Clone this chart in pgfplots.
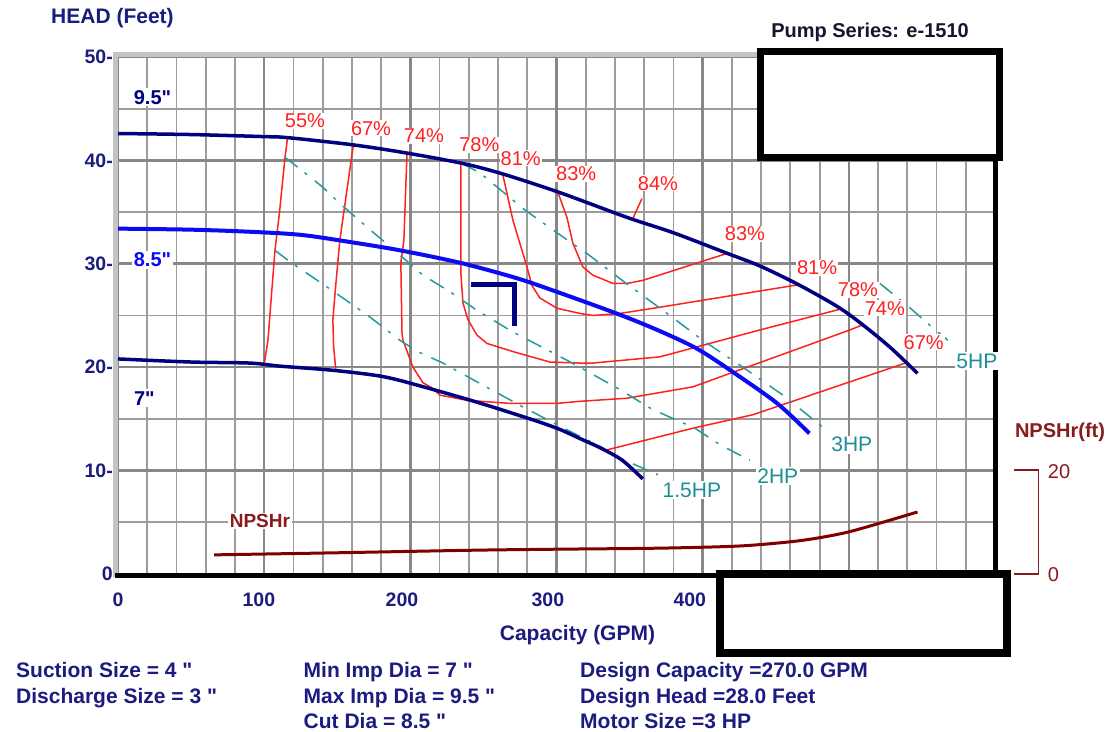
\documentclass[border=0pt]{standalone}
\usepackage{fontspec}
\setmainfont{Liberation Sans}[Ligatures=TeXOff]
\usepackage{pgfplots}
\pgfplotsset{compat=1.18}
\definecolor{navy}{HTML}{000080}
\definecolor{cblue}{HTML}{0A0AF5}
\definecolor{ered}{HTML}{FF2020}
\definecolor{hpteal}{HTML}{249A9A}
\definecolor{hptext}{HTML}{1E8E96}
\definecolor{npred}{HTML}{800000}
\definecolor{nptext}{HTML}{8B1A1A}
\definecolor{txtnavy}{HTML}{1C1C80}
\definecolor{gmaj}{HTML}{878787}
\definecolor{gmin}{HTML}{9C9C9C}
\definecolor{frameg}{HTML}{C4C4C4}
\definecolor{darktxt}{HTML}{15152E}
\newcommand{\fs}[1]{\fontsize{#1}{#1}\selectfont}

\begin{document}
\begin{tikzpicture}[x=1pt,y=1pt,
  pct/.style={fill=white, inner sep=1pt, text=ered, font=\fs{20}},
  hp/.style={fill=white, inner sep=1.5pt, text=hptext, font=\fs{21}},
  dia/.style={fill=white, inner sep=2pt, font=\fs{20}\bfseries},
  eff/.style={ered, line width=1.5pt, line join=round},
  hpl/.style={hpteal, line width=1.5pt, dash pattern=on 16pt off 9pt on 3pt off 10pt},
]
\fill[white] (0,0) rectangle (1115,731);
\useasboundingbox (0,0) rectangle (1115,731);
\begin{axis}[
  at={(118pt,157pt)}, anchor=south west,
  scale only axis, width=877pt, height=517pt,
  xmin=0, xmax=600, ymin=0, ymax=50,
  xtick={0,96.4,194.3,294.1,391.2},
  xticklabels={0,100,200,300,400},
  xmajorgrids=false,
  minor xtick={20,40,60,80,120,140,160,180,220,240,260,280,320,340,360,380,420,440,460,480,520,540,560,580},
  extra x ticks={0,100,200,300,400,500,600},
  extra x tick labels={},
  extra x tick style={grid=major},
  ytick={0,10,20,30,40,50},
  yticklabels={0,10-,20-,30-,40-,50-},
  minor ytick={5,15,25,35,45},
  ymajorgrids=true, xminorgrids=true, yminorgrids=true,
  major grid style={draw=gmaj, line width=2.6pt},
  minor grid style={draw=gmin, line width=1.8pt},
  axis line style={draw=none},
  major tick length=0pt, minor tick length=0pt,
  ticklabel style={font=\fs{19.5}\bfseries, text=txtnavy, inner sep=0pt},
  xticklabel style={anchor=center, yshift=-26pt},
  yticklabel style={anchor=east, xshift=-5pt},
  clip=false,
]
% frame
\draw[frameg, line width=5pt] ([xshift=-2.5pt]axis cs:0,-0.3) -- ([xshift=-2.5pt,yshift=5pt]axis cs:0,50);
\draw[frameg, line width=5pt] ([xshift=-5pt,yshift=2.5pt]axis cs:0,50) -- ([yshift=2.5pt]axis cs:450,50);
\draw[black, line width=5pt] ([xshift=-3pt,yshift=-1pt]axis cs:0,0) -- ([xshift=3pt,yshift=-1pt]axis cs:600,0);
\draw[black, line width=5pt] ([xshift=0.5pt]axis cs:600,-0.4) -- ([xshift=0.5pt]axis cs:600,40);

% efficiency contours
\addplot[eff] coordinates {(116,42.2) (114.2,40.2) (110.5,35) (107.4,31.3) (105,27) (102.6,22.6) (100,20.3)};
\addplot[eff] coordinates {(161,41.5) (156.6,37.1) (151.8,32.3) (149,28) (147,24.6) (147.5,22) (149,19.75)};
\addplot[eff] coordinates {(334.5,12.0) (393.3,14.1) (434.3,15.4) (539.7,20.45)};
\addplot[eff] coordinates {(197.7,40.7) (195.6,32.3) (193.5,30.1) (194.3,23.3) (195,22.6) (201.8,20.0) (208.6,18.5) (214.8,18.0) (220.2,17.3) (238.7,16.8) (268.1,16.5) (300.3,16.5) (316,16.7) (348.2,17.0) (393.3,18.1) (500.7,23.6) (509.6,24.1)};
\addplot[eff] coordinates {(234.6,39.7) (234.6,29.1) (236,26.2) (239.4,24.6) (245.6,23.1) (252.4,22.3) (261.3,21.9) (272.9,21.4) (295.5,20.5) (316,20.4) (324.9,20.4) (370.7,21.0) (439.1,23.6) (493.8,25.6)};
\addplot[eff] coordinates {(263.3,38.6) (270.2,34.2) (279.8,29.7) (283.2,27.9) (288.6,26.7) (300.3,25.7) (316,25.2) (324.9,25.0) (343.4,25.2) (370.7,25.8) (464.4,27.95)};
\addplot[eff] coordinates {(301,36.9) (307.1,34.5) (311.2,32.0) (318,29.7) (324.9,28.9) (338.6,28.1) (348.2,28.1) (359.1,28.4) (416.6,31.0)};
\addplot[eff] coordinates {(352,34.3) (358.4,36.3)};

% horsepower lines
\addplot[hpl] coordinates {(107.4,31.3) (117.6,30.2) (143.6,27.7) (171,25.0) (192.9,22.6) (205.2,21.5) (222.3,20.4) (253.1,18.0) (280.4,15.9) (307.8,13.9) (327.6,12.5) (343.4,11.2) (369.4,9.6)};
\addplot[hpl] coordinates {(114.2,40.3) (122.4,39.4) (140.2,37.4) (150.5,36.0) (172.4,33.3) (194.9,30.6) (208.6,28.9) (227.1,27.3) (245.6,25.5) (270.2,23.4) (297.5,21.4) (316,20.0) (341.3,18.0) (365.9,15.9) (394.7,14.1) (411.8,12.5) (432.3,11.0)};
\addplot[hpl] coordinates {(235.3,39.7) (247.6,38.8) (278.4,35.2) (304.4,32.6) (320.8,31.0) (346.8,28.2) (372.8,25.5) (400.1,22.6) (427.5,20.0) (454.9,17.3) (482.2,14.2)};
\addplot[hpl] coordinates {(521.2,28.1) (539.7,26.0) (557.5,23.8) (567.7,22.6)};

% impeller curves
\addplot[navy, line width=3.5pt, smooth, tension=0.5] coordinates {(0,42.6) (50,42.5) (100,42.3) (116,42.2) (161,41.5) (198,40.7) (236,39.7) (263,38.7) (302,36.9) (348,34.5) (380,33.0) (417,31.0) (439,29.8) (466,27.95) (494,25.7) (514,23.6) (530,21.7) (547,19.4)};
\addplot[cblue, line width=4pt, smooth, tension=0.5] coordinates {(0,33.4) (50,33.3) (90,33.1) (125,32.8) (159,32.1) (193,31.3) (234,30.1) (273,28.6) (302,27.2) (341,25.2) (369,23.6) (396,21.8) (421,19.5) (451,16.5) (473,13.6)};
\addplot[navy, line width=3.5pt, smooth, tension=0.5] coordinates {(0,20.8) (50,20.5) (90,20.4) (111,20.1) (147,19.7) (181,19.1) (209,18.1) (246,16.6) (284,14.9) (302,14.0) (316,13.1) (330,12.2) (345,11.0) (359,9.2)};

% design point marker
\addplot[navy, line width=5pt, line cap=rect, line join=miter] coordinates {(243,28) (271,28) (271,24.2)};

% labels
\node[dia, text=navy] at (axis cs:23.6,46.1) {9.5"};
\node[dia, text=cblue] at (axis cs:23.6,30.4) {8.5"};
\node[dia, text=navy] at (axis cs:18,17.0) {7"};
\node[pct] at (axis cs:127.9,43.8) {55\%};
\node[pct] at (axis cs:173.1,43.1) {67\%};
\node[pct] at (axis cs:209.3,42.4) {74\%};
\node[pct] at (axis cs:247.2,41.5) {78\%};
\node[pct] at (axis cs:275.5,40.2) {81\%};
\node[pct] at (axis cs:313.5,38.7) {83\%};
\node[pct] at (axis cs:369.4,37.8) {84\%};
\node[pct] at (axis cs:428.9,32.9) {83\%};
\node[pct] at (axis cs:478.3,29.6) {81\%};
\node[pct] at (axis cs:524.6,25.7) {74\%};
\node[pct] at (axis cs:506.2,27.5) {78\%};
\node[pct] at (axis cs:551.2,22.4) {67\%};
\node[hp] at (axis cs:392.6,8.1) {1.5HP};
\node[hp] at (axis cs:451.4,9.5) {2HP};
\node[hp] at (axis cs:502,12.5) {3HP};
\node[hp] at (axis cs:587.6,20.6) {5HP};
\end{axis}

% NPSHr on its own scale (0-100 ft over the same height)
\begin{axis}[
  at={(118pt,157pt)}, anchor=south west,
  scale only axis, width=877pt, height=517pt,
  xmin=0, xmax=600, ymin=0, ymax=100,
  hide axis, clip=false,
]
\addplot[npred, line width=3pt, smooth, tension=0.5] coordinates {(65.7,3.7) (149,4.1) (243,4.6) (302,4.8) (371,5.0) (424,5.4) (459,6.2) (479.5,7.0) (499.3,8.1) (522,9.9) (547,12.0)};
\node[fill=white, inner sep=1.5pt, text=nptext, font=\fs{19}\bfseries] at (axis cs:97.1,10.2) {NPSHr};
\end{axis}

% NPSHr scale bracket
\draw[nptext, line width=1.5pt] (1014,261) -- (1038.5,261) -- (1038.5,157) -- (1014,157);
\node[text=nptext, font=\fs{20}] at (1059,259) {20};
\node[text=nptext, font=\fs{20}] at (1053.5,156) {0};
\node[text=nptext, font=\fs{20}\bfseries] at (1060,299) {NPSHr(ft)};

% titles
\node[text=txtnavy, font=\fs{21}\bfseries] at (112.5,713) {HEAD (Feet)};
\node[text=txtnavy, font=\fs{21}\bfseries] at (577.5,96) {Capacity (GPM)};
\node[text=darktxt, font=\fs{20}\bfseries] at (870,698.5) {Pump Series: e-1510};

% info text
\begin{scope}[every node/.style={anchor=base west, inner sep=0pt, text=txtnavy, font=\fs{21}\bfseries}]
\node at (16,53.5) {Suction Size = 4 "};
\node at (16,28) {Discharge Size = 3 "};
\node at (303.5,53.5) {Min Imp Dia = 7 "};
\node at (303.5,28) {Max Imp Dia = 9.5 "};
\node at (303.5,3) {Cut Dia = 8.5 "};
\node at (580,53.5) {Design Capacity =270.0 GPM};
\node at (580,28) {Design Head =28.0 Feet};
\node at (580,3) {Motor Size =3 HP};
\end{scope}

% blanked boxes
\draw[black, line width=7pt, fill=white] (760.5,573.5) rectangle (999.5,679.5);
\draw[black, line width=8pt, fill=white] (720,78.5) rectangle (1006.5,157.5);
\end{tikzpicture}
\end{document}
